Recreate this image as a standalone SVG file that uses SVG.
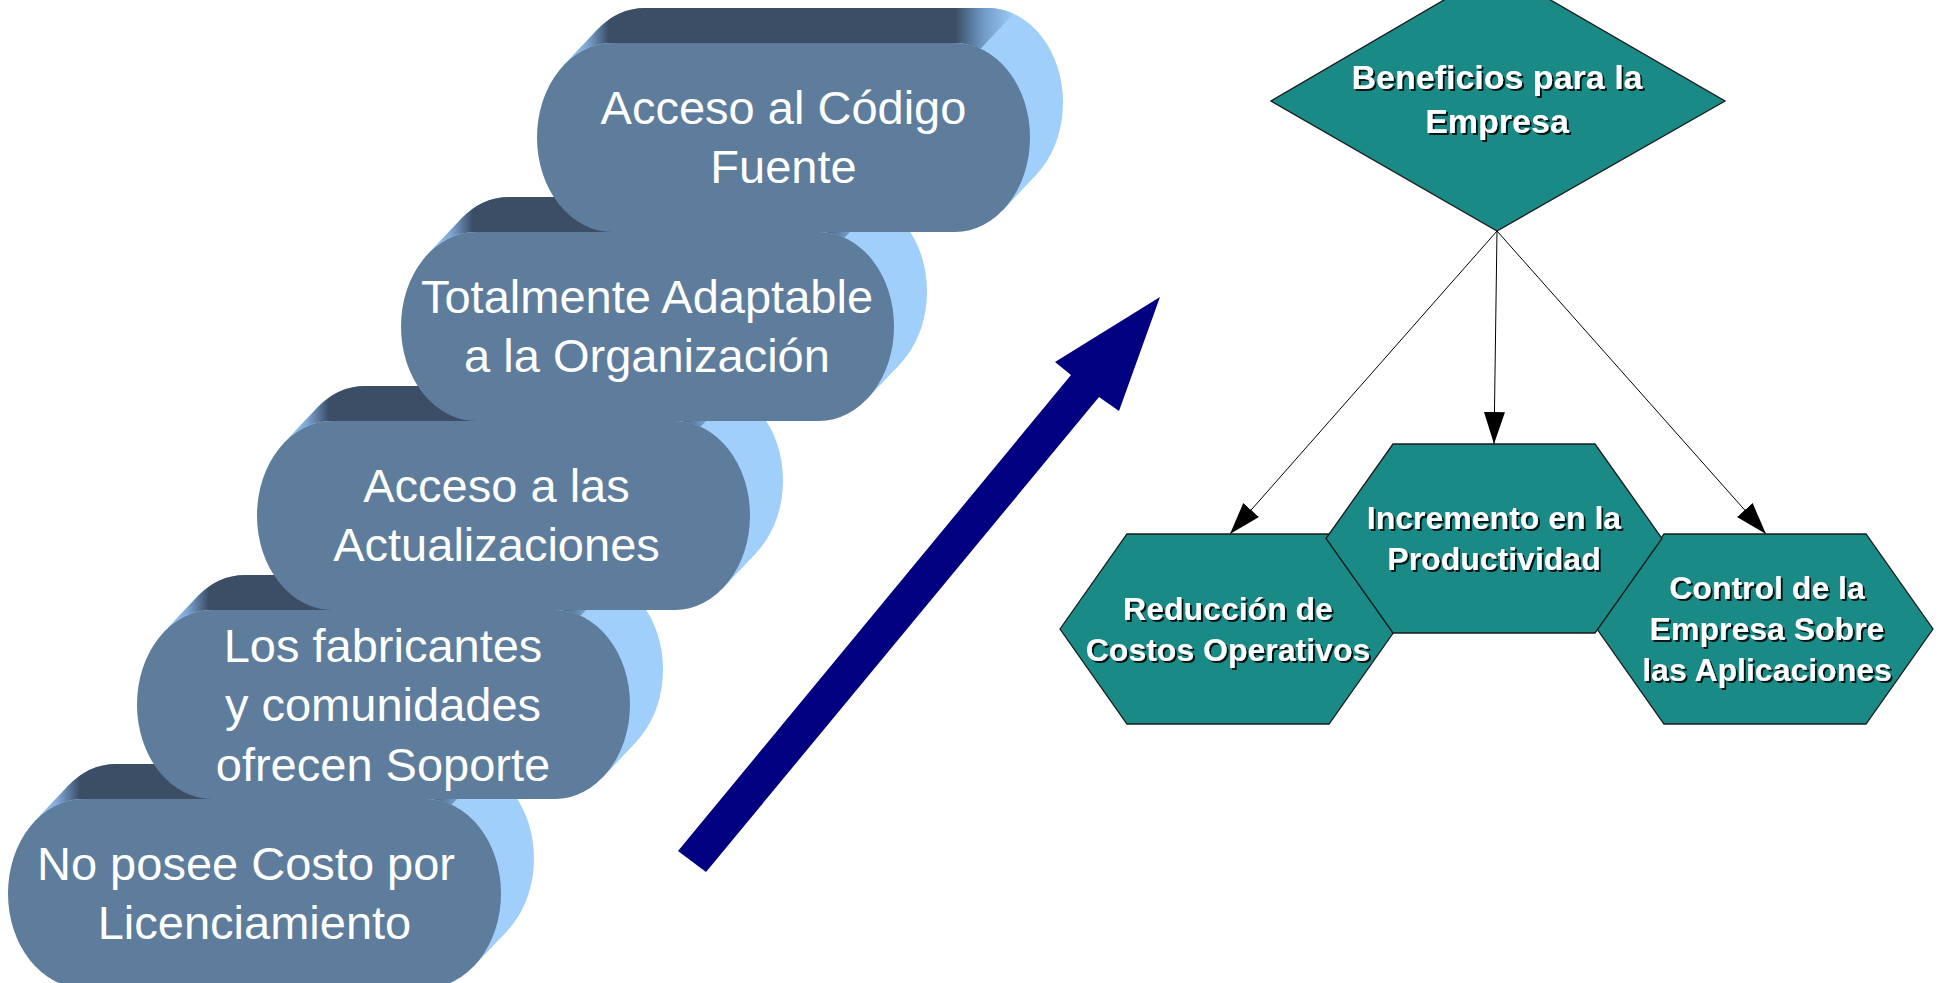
<svg xmlns="http://www.w3.org/2000/svg" width="1939" height="983" viewBox="0 0 1939 983">
<defs>
<linearGradient id="topband" x1="0" y1="0" x2="1" y2="0">
<stop offset="0" stop-color="#a0cffb"/>
<stop offset="0.05" stop-color="#7fa8d6"/>
<stop offset="0.1" stop-color="#3b4e66"/>
<stop offset="0.87" stop-color="#3b4e66"/>
<stop offset="0.93" stop-color="#6f97c4"/>
<stop offset="1" stop-color="#9ccbf8"/>
</linearGradient>
<filter id="sh" x="-10%" y="-10%" width="120%" height="130%">
<feDropShadow dx="2" dy="2" stdDeviation="0.6" flood-color="#000" flood-opacity="0.85"/>
</filter>
<marker id="ah" markerUnits="userSpaceOnUse" viewBox="0 0 32 21" refX="32" refY="10.5" markerWidth="32" markerHeight="21" orient="auto">
<path d="M0,0 L32,10.5 L0,21 z" fill="#000"/>
</marker>
</defs>
<style>
.side{fill:#a0cffb}
.band{fill:url(#topband)}
.face{fill:#5e7c9b}
.pt{font-family:"Liberation Sans",Arial,sans-serif;font-size:47px;fill:#fff;text-anchor:middle}
.hex{fill:#1a8a87;stroke:#1a1a1a;stroke-width:1.3}
.ht{font-family:"Liberation Sans",Arial,sans-serif;font-weight:bold;font-size:32px;fill:#fff;text-anchor:middle;filter:url(#sh)}
.dt{font-size:34px}
.conn{stroke:#000;stroke-width:1;fill:none;marker-end:url(#ah)}
</style>

<!-- Pill 5 -->
<g id="pill5">
<rect class="side" x="41" y="764" width="493" height="189" rx="75" ry="94.5"/>
<polygon class="side" points="34.7,821.2 67.7,786.2 507.3,930.8 474.3,965.8"/>
<path class="band" d="M34.7,821.2 A75,94.5 0 0 1 83,799 L426,799 A75,94.5 0 0 1 451.6,804.7 L484.6,769.7 A75,94.5 0 0 0 459,764 L116,764 A75,94.5 0 0 0 67.7,786.2 Z"/>
<rect class="face" x="8" y="799" width="493" height="189" rx="75" ry="94.5"/>
<text class="pt"><tspan x="246" y="879.5">No posee Costo por</tspan><tspan x="254.5" y="939">Licenciamiento</tspan></text>
</g>

<!-- Pill 4 -->
<g id="pill4">
<rect class="side" x="170" y="575" width="493" height="189" rx="75" ry="94.5"/>
<polygon class="side" points="163.7,632.2 196.7,597.2 636.3,741.8 603.3,776.8"/>
<path class="band" d="M163.7,632.2 A75,94.5 0 0 1 212,610 L555,610 A75,94.5 0 0 1 580.6,615.7 L613.6,580.7 A75,94.5 0 0 0 588,575 L245,575 A75,94.5 0 0 0 196.7,597.2 Z"/>
<rect class="face" x="137" y="610" width="493" height="189" rx="75" ry="94.5"/>
<text class="pt"><tspan x="383" y="661.5">Los fabricantes</tspan><tspan x="383" y="721">y comunidades</tspan><tspan x="383" y="780.5">ofrecen Soporte</tspan></text>
</g>

<!-- Pill 3 -->
<g id="pill3">
<rect class="side" x="290" y="386" width="493" height="189" rx="75" ry="94.5"/>
<polygon class="side" points="283.7,443.2 316.7,408.2 756.3,552.8 723.3,587.8"/>
<path class="band" d="M283.7,443.2 A75,94.5 0 0 1 332,421 L675,421 A75,94.5 0 0 1 700.6,426.7 L733.6,391.7 A75,94.5 0 0 0 708,386 L365,386 A75,94.5 0 0 0 316.7,408.2 Z"/>
<rect class="face" x="257" y="421" width="493" height="189" rx="75" ry="94.5"/>
<text class="pt"><tspan x="496.5" y="501.5">Acceso a las</tspan><tspan x="496.5" y="561">Actualizaciones</tspan></text>
</g>

<!-- Pill 2 -->
<g id="pill2">
<rect class="side" x="434" y="197" width="493" height="189" rx="75" ry="94.5"/>
<polygon class="side" points="427.7,254.2 460.7,219.2 900.3,363.8 867.3,398.8"/>
<path class="band" d="M427.7,254.2 A75,94.5 0 0 1 476,232 L819,232 A75,94.5 0 0 1 844.6,237.7 L877.6,202.7 A75,94.5 0 0 0 852,197 L509,197 A75,94.5 0 0 0 460.7,219.2 Z"/>
<rect class="face" x="401" y="232" width="493" height="189" rx="75" ry="94.5"/>
<text class="pt"><tspan x="647" y="312.5">Totalmente Adaptable</tspan><tspan x="647" y="372">a la Organización</tspan></text>
</g>

<!-- Pill 1 -->
<g id="pill1">
<rect class="side" x="570" y="8" width="493" height="189" rx="75" ry="94.5"/>
<polygon class="side" points="563.7,65.2 596.7,30.2 1036.3,174.8 1003.3,209.8"/>
<path class="band" d="M563.7,65.2 A75,94.5 0 0 1 612,43 L955,43 A75,94.5 0 0 1 980.6,48.7 L1013.6,13.7 A75,94.5 0 0 0 988,8 L645,8 A75,94.5 0 0 0 596.7,30.2 Z"/>
<rect class="face" x="537" y="43" width="493" height="189" rx="75" ry="94.5"/>
<text class="pt"><tspan x="783.5" y="123.5">Acceso al Código</tspan><tspan x="783.5" y="183">Fuente</tspan></text>
</g>

<!-- Big arrow -->
<g id="growth-arrow">
<polygon points="678,851 1071,375 1055,362 1160,297 1119,411 1099,397 706,872" fill="#000080"/>
</g>

<!-- Diamond -->
<g id="benefits">
<polygon class="hex" points="1497,-31 1725,101 1497,231 1271,101"/>
<text class="ht dt"><tspan x="1497" y="89">Beneficios para la</tspan><tspan x="1497" y="133">Empresa</tspan></text>
</g>

<!-- Connectors -->
<g id="connectors">
<line class="conn" x1="1497" y1="231" x2="1230" y2="534"/>
<line class="conn" x1="1497" y1="231" x2="1494" y2="444"/>
<line class="conn" x1="1497" y1="231" x2="1766" y2="534"/>
</g>

<!-- Hexagons -->
<g id="reduccion">
<polygon class="hex" points="1060,629 1127,534 1329,534 1396,629 1329,724 1127,724"/>
<text class="ht"><tspan x="1228" y="620">Reducción de</tspan><tspan x="1228" y="661">Costos Operativos</tspan></text>
</g>
<g id="control">
<polygon class="hex" points="1597,629 1664,534 1866,534 1933,629 1866,724 1664,724"/>
<text class="ht"><tspan x="1767" y="599">Control de la</tspan><tspan x="1767" y="640">Empresa Sobre</tspan><tspan x="1767" y="681">las Aplicaciones</tspan></text>
</g>
<g id="incremento">
<polygon class="hex" points="1326,538.5 1393,444 1595,444 1662,538.5 1595,633 1393,633"/>
<text class="ht"><tspan x="1494" y="529">Incremento en la</tspan><tspan x="1494" y="570">Productividad</tspan></text>
</g>
</svg>
